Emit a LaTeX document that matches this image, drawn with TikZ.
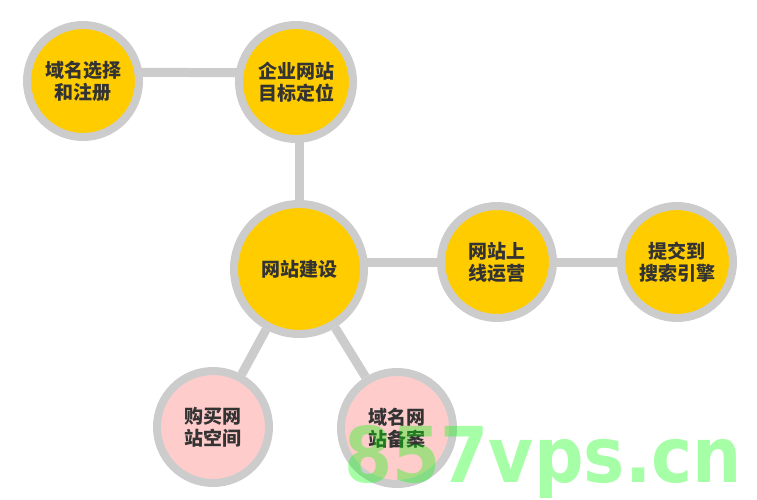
\documentclass[tikz,border=0pt]{standalone}
\usepackage{fontspec}
\newfontfamily\cjk{Noto Sans CJK SC}
\newfontfamily\wmfont{DejaVu Sans}
\usetikzlibrary{backgrounds}
\definecolor{nodeyellow}{HTML}{FFCC00}
\definecolor{nodepink}{HTML}{FFCCCC}
\definecolor{ringgray}{HTML}{CCCCCC}
\definecolor{textdark}{HTML}{333333}
\definecolor{wmgreen}{HTML}{00FF00}

\begin{document}
\begin{tikzpicture}[
        x=1pt, y=-1pt,
        topic/.style={circle, draw=ringgray, line width=8pt, fill=nodeyellow,
          minimum size=112pt, inner sep=0pt, align=center, text=textdark,
          font=\cjk\bfseries\fontsize{19}{22}\selectfont},
        aside/.style={topic, fill=nodepink},
        link/.style={draw=ringgray, line width=9pt},
        wm/.style={text=wmgreen, text opacity=0.35, inner sep=0pt,
          transform shape, xscale=0.9,
          font=\wmfont\bfseries\fontsize{77}{77}\selectfont}
        ]
        \useasboundingbox (0,0) rectangle (757,500);

        \node[topic]                     (dm) at (83,81)   {域名选择\\和注册};
        \node[topic,minimum size=114pt]  (qy) at (296,82)  {企业网站\\目标定位};
        \node[topic,minimum size=130pt]  (jz) at (299,269) {网站建设};
        \node[topic]                     (sx) at (497,262) {网站上\\线运营};
        \node[topic]                     (tj) at (677,262) {提交到\\搜索引擎};
        \node[aside]                     (gm) at (213,427) {购买网\\站空间};
        \node[aside]                     (ba) at (397,428) {域名网\\站备案};

        \begin{scope}[on background layer]
          \fill[white] (0,0) rectangle (757,500);
          \path[link] ([yshift=9pt]dm.center) edge ([yshift=9pt]qy.center)
                      (jz |- qy) edge (jz)
                      (jz |- sx) edge (sx)
                      (sx) edge (tj)
                      (jz) edge (gm)
                      (jz) edge (ba);
        \end{scope}

        \node[wm, anchor=base] (mark) at (543,482) {857vps.cn};
      \end{tikzpicture}
\end{document}
